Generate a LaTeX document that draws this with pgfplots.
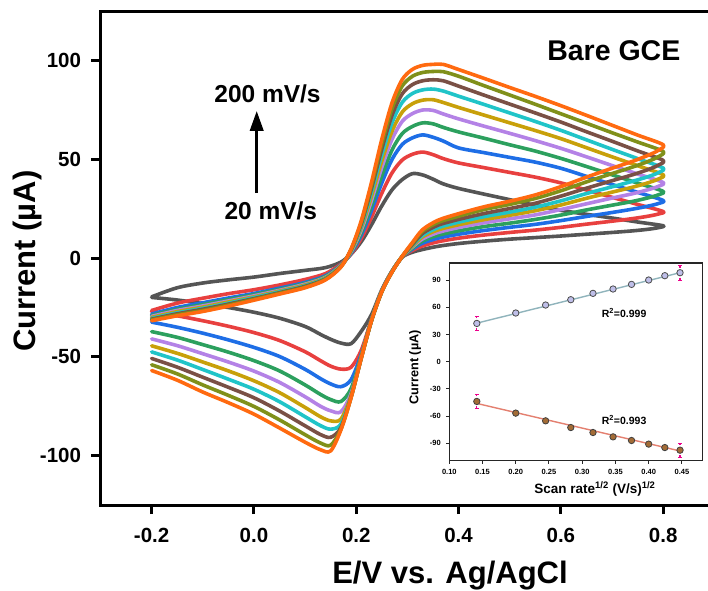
\documentclass[border=0pt]{standalone}
\usepackage{pgfplots}
\pgfplotsset{compat=1.18}
\usepackage{pgfplotstable}
\usepackage{fontspec}
\setmainfont{Liberation Sans}
\usetikzlibrary{arrows.meta}

% scan-rate colours, 20 -> 200 mV/s
\definecolor{cA}{HTML}{555555}
\definecolor{cB}{HTML}{E8403F}
\definecolor{cC}{HTML}{1E6EE6}
\definecolor{cD}{HTML}{2CA05E}
\definecolor{cE}{HTML}{B482E6}
\definecolor{cF}{HTML}{C8A00A}
\definecolor{cG}{HTML}{20C4C8}
\definecolor{cH}{HTML}{7A5045}
\definecolor{cI}{HTML}{80901A}
\definecolor{cJ}{HTML}{FF6A10}
\definecolor{fitA}{HTML}{90B4BC}
\definecolor{fitC}{HTML}{E48070}

% cyclic voltammograms: forward sweep -0.2 -> 0.8 V, then reverse sweep back to -0.2 V
\pgfplotstableread{
x c1 c2 c3 c4 c5 c6 c7 c8 c9 c10
-0.20 -19.6 -26.5 -28.3 -29.0 -29.5 -30.0 -30.5 -30.9 -31.3 -31.7
-0.15 -15.0 -22.8 -25.0 -25.9 -26.5 -27.1 -27.7 -28.2 -28.7 -29.2
-0.10 -12.6 -20.3 -22.6 -23.5 -24.2 -24.8 -25.4 -25.9 -26.5 -27.0
-0.05 -11.0 -18.0 -20.2 -21.0 -21.7 -22.2 -22.8 -23.3 -23.8 -24.3
0.00 -9.6 -16.0 -17.9 -18.5 -19.1 -19.6 -20.0 -20.5 -20.9 -21.3
0.05 -7.8 -13.6 -15.2 -15.8 -16.3 -16.7 -17.1 -17.5 -17.8 -18.2
0.10 -6.2 -10.8 -12.3 -12.8 -13.2 -13.6 -14.0 -14.3 -14.7 -15.0
0.14 -4.8 -7.8 -8.9 -9.3 -9.7 -9.9 -10.2 -10.5 -10.7 -11.0
0.17 -2.0 -3.0 -3.4 -3.6 -3.8 -3.9 -4.1 -4.2 -4.4 -4.5
0.19 2.1 2.1 2.5 2.9 3.3 3.7 4.0 4.3 4.5 4.7
0.21 8.4 10.1 11.8 13.0 14.4 15.5 16.5 17.5 18.4 19.1
0.23 17.0 20.9 24.3 26.7 29.4 31.5 33.6 35.5 37.2 38.6
0.25 26.5 32.9 38.1 41.8 46.0 49.2 52.4 55.3 58.0 60.2
0.27 34.6 43.2 50.0 54.8 60.2 64.3 68.6 72.4 75.8 78.7
0.29 39.8 49.7 57.6 63.1 69.3 74.0 78.9 83.2 87.2 90.5
0.31 42.8 52.6 60.9 66.7 73.2 78.2 83.4 87.9 92.1 95.6
0.33 42.1 53.7 62.4 68.5 75.0 80.0 85.2 89.8 94.0 97.6
0.35 40.0 52.4 61.2 68.0 74.8 80.2 85.6 90.3 94.5 98.1
0.37 37.6 50.4 59.3 66.2 73.0 78.8 84.6 89.8 94.4 98.1
0.40 35.3 48.2 55.8 63.9 70.5 76.3 82.0 87.1 92.1 95.5
0.45 32.4 45.8 53.4 60.7 66.8 72.4 77.8 82.5 87.3 91.0
0.50 29.6 43.4 51.0 57.4 63.2 68.5 73.5 78.0 82.6 86.4
0.55 26.7 41.0 48.6 54.2 59.5 64.6 69.2 73.5 77.9 81.9
0.60 24.2 38.1 45.5 50.5 55.6 60.5 64.7 68.9 73.1 77.2
0.65 22.2 34.5 41.4 46.4 51.3 55.9 59.9 64.0 68.3 72.3
0.70 20.3 30.8 37.3 42.2 46.9 51.3 55.1 59.2 63.5 67.3
0.75 18.3 27.2 33.3 38.0 42.6 46.8 50.4 54.3 58.8 62.3
0.80 16.4 23.6 29.2 33.8 38.3 42.2 45.6 49.5 54.0 57.4
0.79 15.4 22.3 27.6 32.0 36.3 40.0 43.2 47.0 51.3 54.5
0.77 14.6 21.2 26.3 30.5 34.6 38.1 41.2 44.8 48.9 52.0
0.74 13.8 20.0 24.8 28.7 32.6 35.9 38.9 42.2 46.1 49.0
0.70 13.0 18.7 23.1 26.8 30.4 33.4 36.1 39.2 42.8 45.5
0.65 12.1 17.2 21.1 24.4 27.5 30.3 32.7 35.4 38.6 41.0
0.60 11.2 15.6 19.0 21.8 24.6 26.9 29.0 31.4 34.1 36.2
0.55 10.4 14.2 17.1 19.6 21.9 24.0 25.8 27.8 30.2 32.0
0.50 9.6 13.0 15.6 17.7 19.9 21.7 23.3 25.1 27.2 28.8
0.45 8.6 11.7 14.0 16.0 17.9 19.5 21.0 22.6 24.6 26.0
0.40 7.4 10.1 12.1 13.8 15.5 16.9 18.2 19.6 21.2 22.5
0.36 6.0 8.3 10.1 11.6 13.0 14.3 15.4 16.7 18.1 19.2
0.33 4.4 6.2 7.6 8.7 9.8 10.8 11.6 12.6 13.7 14.5
0.31 3.0 3.9 4.6 5.1 5.7 6.1 6.6 7.0 7.6 8.0
0.29 0.5 0.6 0.7 0.7 0.8 0.8 0.9 0.9 1.0 1.0
0.27 -6.5 -6.6 -6.7 -6.7 -6.8 -6.8 -6.9 -6.9 -7.0 -7.0
0.25 -16.0 -16.4 -16.6 -16.7 -16.8 -16.8 -16.9 -16.9 -17.0 -17.0
0.23 -28.5 -30.8 -31.1 -31.2 -31.3 -31.3 -31.4 -31.4 -31.5 -31.5
0.21 -37.0 -46.5 -48.5 -49.3 -49.8 -50.0 -50.2 -50.3 -50.4 -50.5
0.19 -43.3 -55.2 -61.5 -66.0 -68.5 -69.5 -70.0 -70.2 -70.4 -70.5
0.17 -43.0 -56.2 -65.1 -72.6 -77.8 -81.5 -84.0 -85.8 -86.6 -87.0
0.15 -41.1 -54.7 -63.7 -71.6 -77.3 -82.4 -86.6 -90.7 -94.7 -97.6
0.13 -38.6 -51.9 -61.0 -69.0 -75.0 -80.3 -84.8 -89.3 -93.6 -97.0
0.10 -34.6 -47.4 -56.3 -64.2 -70.2 -75.6 -80.3 -84.9 -89.4 -93.2
0.05 -30.4 -41.7 -49.8 -57.1 -62.9 -68.1 -72.7 -77.4 -81.9 -86.0
0.00 -27.4 -37.7 -45.2 -51.9 -57.2 -62.1 -66.4 -70.7 -75.1 -79.0
-0.05 -25.0 -34.5 -41.4 -47.6 -52.6 -57.1 -61.3 -65.4 -69.5 -73.2
-0.10 -23.0 -31.7 -38.0 -43.8 -48.4 -52.6 -56.4 -60.3 -64.2 -67.8
-0.15 -21.2 -29.2 -35.0 -40.1 -44.3 -48.2 -51.6 -55.2 -58.6 -61.8
-0.20 -19.9 -27.2 -32.4 -37.2 -40.9 -44.4 -47.5 -50.8 -54.0 -56.9
}\cvdata

% peak currents vs square root of scan rate
\pgfplotstableread{
r ia ic
0.1414 42.3 -43.8
0.2000 53.8 -56.7
0.2449 62.6 -65.2
0.2828 68.5 -72.6
0.3162 75.5 -78.1
0.3464 80.3 -82.9
0.3742 85.4 -86.9
0.4000 90.2 -90.9
0.4243 95.0 -94.7
0.4472 98.3 -97.6
}\peaks

\begin{document}
\begin{tikzpicture}
\begin{axis}[
  at={(0,0)}, anchor=south west,
  scale only axis, width=613.8pt, height=493.75pt,
  xmin=-0.3, xmax=0.9, ymin=-125, ymax=125,
  axis line style={line width=3pt},
  xtick={-0.2,0,0.2,0.4,0.6,0.8}, xticklabels={-0.2,0.0,0.2,0.4,0.6,0.8},
  ytick={-100,-50,0,50,100}, yticklabels={-100,-50,0,50,100},
  tick align=outside, xtick pos=left, ytick pos=left,
  major tick length=9pt, tick style={line width=3pt, black},
  tick label style={font=\fontsize{20.5}{24}\selectfont\bfseries},
  xticklabel style={yshift=-11pt},
  yticklabel style={xshift=-7pt},
  xlabel={E/V vs. Ag/AgCl},
  xlabel style={font=\fontsize{31}{36}\selectfont\bfseries, at={(rel axis cs:0.5694,0)}, anchor=center, yshift=-71pt},
  ylabel={Current (µA)},
  ylabel style={font=\fontsize{31}{36}\selectfont\bfseries, at={(rel axis cs:0,0.5)}, anchor=center, yshift=73.5pt, xshift=-3pt},
  every axis plot/.append style={line width=3.6pt, smooth, tension=0.5, line join=round, line cap=round},
]
\addplot[cA] table[x=x, y=c1] {\cvdata};
\addplot[cB] table[x=x, y=c2] {\cvdata};
\addplot[cC] table[x=x, y=c3] {\cvdata};
\addplot[cD] table[x=x, y=c4] {\cvdata};
\addplot[cE] table[x=x, y=c5] {\cvdata};
\addplot[cF] table[x=x, y=c6] {\cvdata};
\addplot[cG] table[x=x, y=c7] {\cvdata};
\addplot[cH] table[x=x, y=c8] {\cvdata};
\addplot[cI] table[x=x, y=c9] {\cvdata};
\addplot[cJ] table[x=x, y=c10] {\cvdata};

\node[font=\fontsize{28.5}{30}\selectfont\bfseries] at (axis cs:0.7035,105) {Bare GCE};
\node[font=\fontsize{24.5}{26}\selectfont\bfseries] at (axis cs:0.0265,83.4) {200 mV/s};
\node[font=\fontsize{24.5}{26}\selectfont\bfseries] at (axis cs:0.033,24.05) {20 mV/s};
\draw[line width=3.5pt, -{Triangle[length=20pt,width=13pt]}] (axis cs:0.0054,32.9) -- (axis cs:0.0054,74.6);
\end{axis}

% inset: peak current vs (scan rate)^1/2
\begin{axis}[
  at={(348.8pt,44.5pt)}, anchor=south west,
  scale only axis, width=253.2pt, height=197.5pt,
  xmin=0.1, xmax=0.481, ymin=-109, ymax=109,
  axis background/.style={fill=white},
  axis line style={line width=1.4pt, black!85},
  xtick={0.10,0.15,0.20,0.25,0.30,0.35,0.40,0.45},
  xticklabels={0.10,0.15,0.20,0.25,0.30,0.35,0.40,0.45},
  ytick={-90,-60,-30,0,30,60,90}, yticklabels={-90,-60,-30,0,30,60,90},
  tick align=outside, xtick pos=left, ytick pos=left,
  major tick length=3pt, tick style={line width=1pt, black!85},
  tick label style={font=\fontsize{7.5}{9}\selectfont\bfseries},
  xticklabel style={yshift=-2pt},
  yticklabel style={xshift=-2pt},
  xlabel={Scan rate\textsuperscript{1/2} (V/s)\textsuperscript{1/2}},
  xlabel style={font=\fontsize{13.5}{15}\selectfont\bfseries, at={(rel axis cs:0.575,0)}, anchor=center, yshift=-28.5pt},
  ylabel={Current (µA)},
  ylabel style={font=\fontsize{12.7}{14}\selectfont\bfseries, at={(rel axis cs:0,0.5)}, anchor=center, yshift=34.3pt, xshift=-5.5pt},
]
% linear fits
\addplot[fitA, line width=1.4pt] coordinates {(0.1414,42.6) (0.4472,98.3)};
\addplot[fitC, line width=1.4pt] coordinates {(0.1414,-46.0) (0.4472,-98.5)};
% error bars at the lowest and highest scan rates
\addplot[draw=none, mark=none, error bars/.cd, y dir=both, y explicit,
  error bar style={magenta, densely dashed, line width=1.2pt},
  error mark options={magenta, mark size=2pt, rotate=90}]
  coordinates {(0.1414,42.3) +- (0,8) (0.4472,98.3) +- (0,8) (0.1414,-43.8) +- (0,8) (0.4472,-97.6) +- (0,8)};
\addplot[only marks, mark=*, mark size=3.2pt, mark options={fill=black!35!blue!25, draw=black!70, line width=0.8pt}] table[x=r, y=ia] {\peaks};
\addplot[only marks, mark=*, mark size=3.2pt, mark options={fill=brown!85!black, draw=black!75, line width=0.8pt}] table[x=r, y=ic] {\peaks};
\node[font=\fontsize{10.5}{12}\selectfont\bfseries] at (axis cs:0.363,53.6) {R\textsuperscript{2}=0.999};
\node[font=\fontsize{10.5}{12}\selectfont\bfseries] at (axis cs:0.363,-64.1) {R\textsuperscript{2}=0.993};
\end{axis}

\pgfresetboundingbox
\useasboundingbox (-100.5pt,-85pt) rectangle (607.5pt,505pt);
\end{tikzpicture}
\end{document}
